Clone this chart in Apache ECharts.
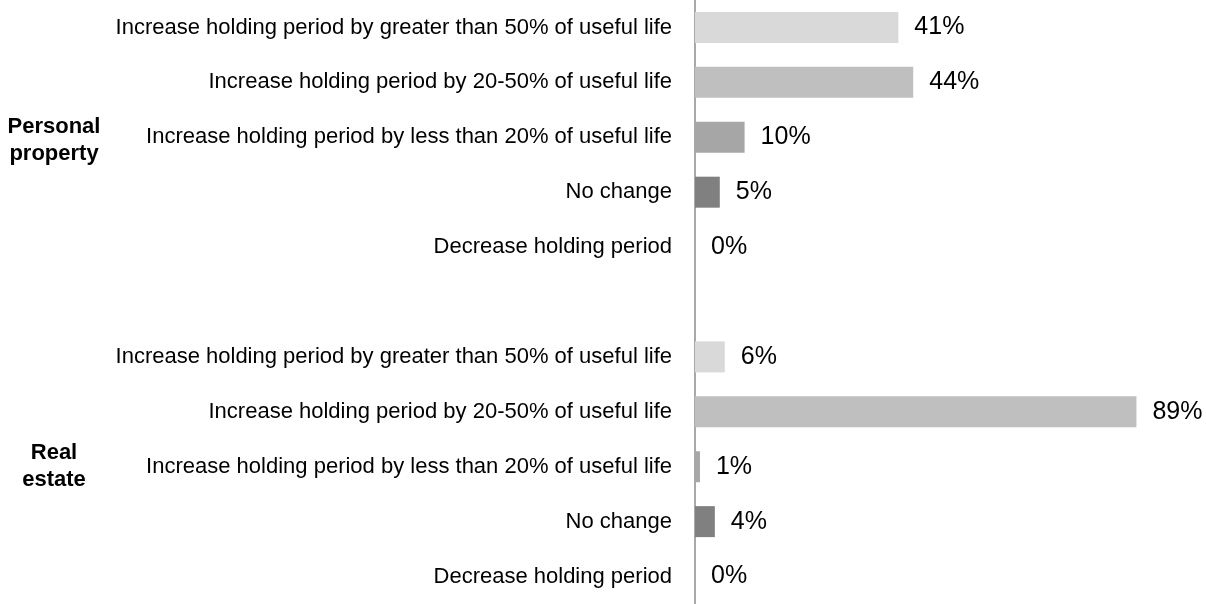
<!DOCTYPE html>
<html>
<head>
<meta charset="utf-8">
<script src="https://cdn.jsdelivr.net/npm/echarts@6/dist/echarts.min.js"></script>
<style>
html,body{margin:0;padding:0;background:#fff;}
#chart{width:1206px;height:604px;}
</style>
</head>
<body>
<div id="chart"></div>
<script>
// categories (top to bottom), '' is the spacer row between the two groups
var categories = [
	'Increase holding period by greater than 50% of useful life',
	'Increase holding period by 20-50% of useful life',
	'Increase holding period by less than 20% of useful life',
	'No change',
	'Decrease holding period',
	'',
	'Increase holding period by greater than 50% of useful life',
	'Increase holding period by 20-50% of useful life',
	'Increase holding period by less than 20% of useful life',
	'No change',
	'Decrease holding period'
];
var personalProperty = [41, 44, 10, 5, 0];
var realEstate = [6, 89, 1, 4, 0];
var groupNames = ['Personal\nproperty', 'Real\nestate'];

var shades = ['#d9d9d9', '#bfbfbf', '#a6a6a6', '#808080', '#595959'];

var chart = echarts.init(document.getElementById('chart'));

function toItems(vals){
	return vals.map(function(v, i){
		return {value: v, itemStyle: {color: shades[i]}};
	});
}
var seriesData = toItems(personalProperty).concat([{value: null, label: {show: false}}], toItems(realEstate));

var option = {
	animation: false,
	grid: {left: 695, width: 496, top: 0, height: 604, containLabel: false},
	xAxis: {
		type: 'value', min: 0, max: 100, show: false
	},
	yAxis: {
		type: 'category',
		inverse: true,
		data: categories,
		axisTick: {show: false},
		axisLine: {show: true, lineStyle: {color: '#8c8c8c', width: 1.5}},
		axisLabel: {
			color: '#000',
			fontSize: 22,
			fontFamily: '"Liberation Sans Narrow", "Arial Narrow", "Liberation Sans", Arial, sans-serif',
			margin: 23
		}
	},
	series: [{
		type: 'bar',
		data: seriesData,
		barWidth: 31,
		label: {
			show: true,
			position: 'right',
			distance: 16,
			color: '#000',
			fontSize: 25,
			fontFamily: '"Liberation Sans", Arial, sans-serif',
			formatter: '{c}%'
		}
	}]
};
chart.setOption(option);

// group titles centred on the middle row of each block
var mid1 = chart.convertToPixel({yAxisIndex: 0}, 2);
var mid2 = chart.convertToPixel({yAxisIndex: 0}, 8);
chart.setOption({
	graphic: [mid1 + 3, mid2].map(function(y, i){
		return {
			type: 'text',
			x: 54, y: y,
			style: {
				text: groupNames[i],
				fill: '#000',
				font: 'bold 22px "Liberation Sans", Arial, sans-serif',
				align: 'center',
				verticalAlign: 'middle',
				lineHeight: 27
			}
		};
	})
});
</script>
</body>
</html>
